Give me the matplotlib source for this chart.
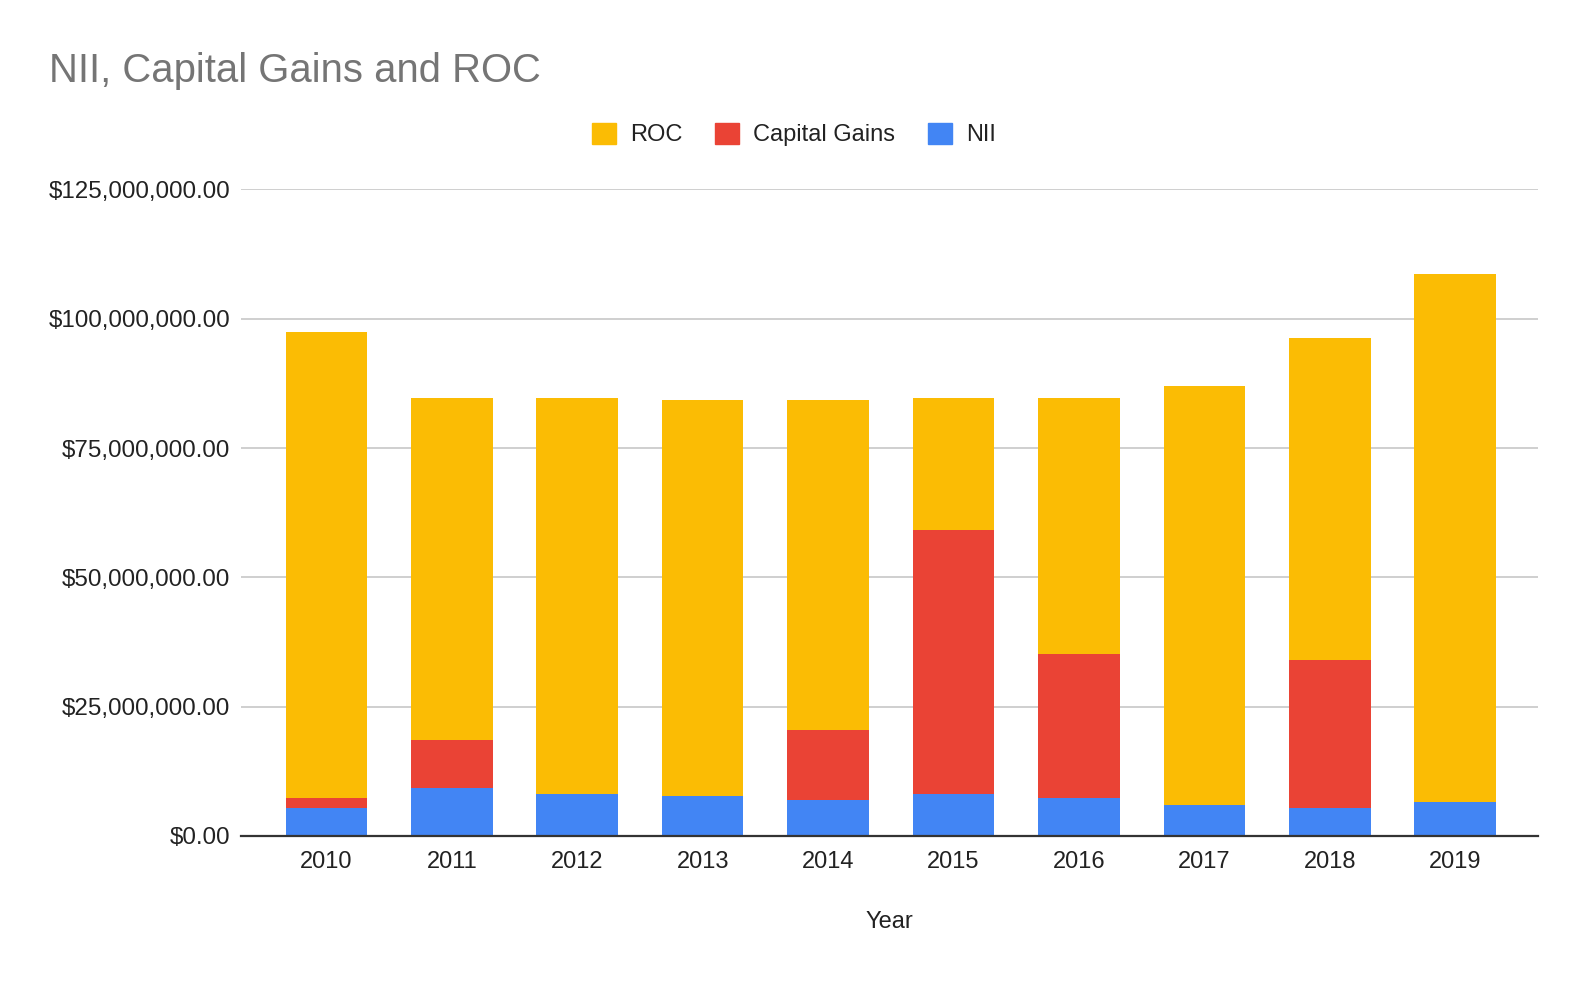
import numpy as np
import matplotlib.pyplot as plt
from matplotlib.patches import Patch
from matplotlib.ticker import FuncFormatter

plt.rcParams['font.family'] = ['Liberation Sans', 'DejaVu Sans']

# valores (em milhoes de dolares)
years = ['2010', '2011', '2012', '2013', '2014', '2015', '2016', '2017', '2018', '2019']
nii = [5.5, 9.3, 8.2, 7.8, 7.0, 8.2, 7.4, 5.9, 5.5, 6.6]
cap_gains = [1.9, 9.3, 0.0, 0.0, 13.5, 51.0, 27.8, 0.0, 28.6, 0.0]
roc = [90.1, 66.1, 76.5, 76.5, 63.8, 25.5, 49.5, 81.1, 62.2, 102.0]

c_roc = '#FBBC04'
c_cg = '#EA4335'
c_nii = '#4285F4'

nii = np.array(nii) * 1e6
cap_gains = np.array(cap_gains) * 1e6
roc = np.array(roc) * 1e6
x = np.arange(len(years))

fig = plt.figure(figsize=(15.88, 9.82), dpi=100)
ax = fig.add_axes([0.1518, 0.1487, 0.8167, 0.6584])

w = 0.65
ax.bar(x, nii, w, color=c_nii, zorder=3)
ax.bar(x, cap_gains, w, bottom=nii, color=c_cg, zorder=3)
ax.bar(x, roc, w, bottom=nii + cap_gains, color=c_roc, zorder=3)

ax.set_xlim(-0.68, 9.66)
ax.set_ylim(0, 125e6)
ax.set_yticks(np.arange(0, 125e6 + 1, 25e6))
ax.yaxis.set_major_formatter(FuncFormatter(lambda v, p: '${:,.2f}'.format(v)))
ax.set_xticks(x)
ax.set_xticklabels(years)
ax.tick_params(axis='y', length=0, pad=8, labelsize=17.4, labelcolor='#222222')
ax.tick_params(axis='x', length=0, pad=11, labelsize=17, labelcolor='#222222')
ax.grid(axis='y', color='#cccccc', linewidth=1.3, zorder=0)
for s in ['top', 'right', 'left']:
    ax.spines[s].set_visible(False)
ax.spines['bottom'].set_color('#333333')
ax.spines['bottom'].set_linewidth(1.6)
ax.spines['bottom'].set_zorder(4)

fig.text(0.0306, 0.9165, 'NII, Capital Gains and ROC', fontsize=28.8,
         color='#757575', ha='left', va='baseline')
fig.text(0.5598, 0.0611, 'Year', fontsize=17, color='#222222', ha='center', va='center')

handles = [Patch(color=c_roc, label='ROC'),
           Patch(color=c_cg, label='Capital Gains'),
           Patch(color=c_nii, label='NII')]
fig.legend(handles=handles, loc='center', bbox_to_anchor=(0.5, 0.8629), ncol=3,
           frameon=False, fontsize=17, handlelength=1.0, handleheight=1.0,
           handletextpad=0.6, columnspacing=1.4, labelcolor='#222222')

fig.savefig('out.png', dpi=100)
